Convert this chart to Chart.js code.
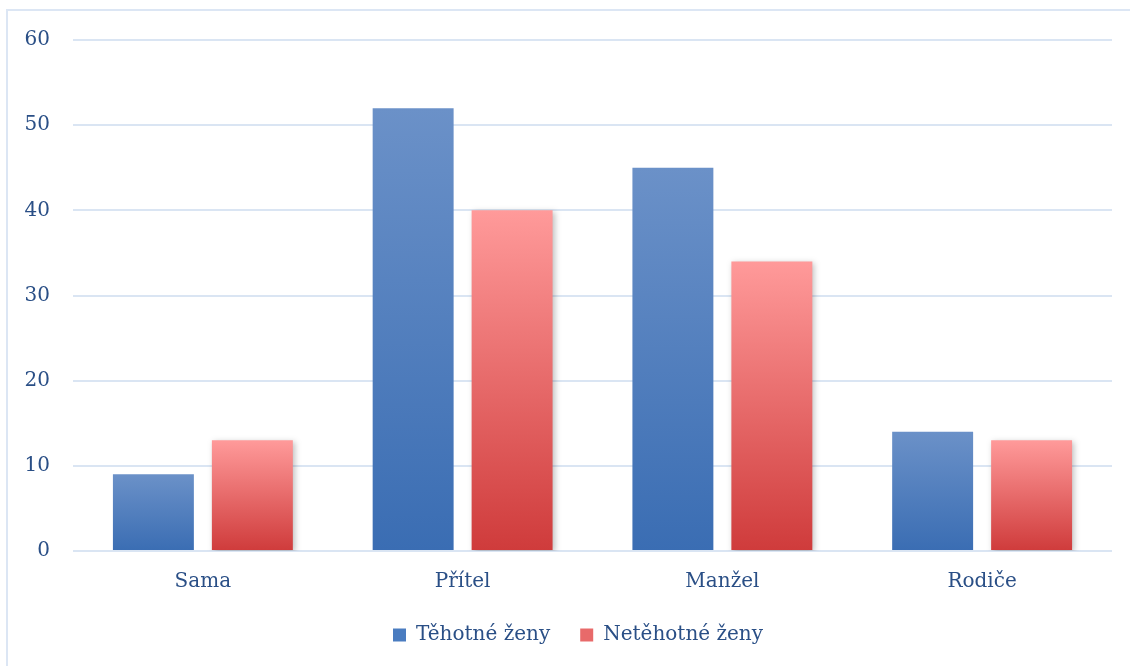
<!DOCTYPE html>
<html>
<head>
<meta charset="utf-8">
<script src="https://cdn.jsdelivr.net/npm/chart.js@4/dist/chart.umd.min.js"></script>
<style>
  html, body { margin: 0; padding: 0; background: #fff; overflow: hidden; }
  canvas { display: block; }
</style>
</head>
<body>
<canvas id="chart" width="1130" height="666"></canvas>
<script>
// categories and values
const categories = ["Sama", "Přítel", "Manžel", "Rodiče"];
const pregnant = [9, 52, 45, 14];
const notPregnant = [13, 40, 34, 13];
const yTicks = [0, 10, 20, 30, 40, 50, 60];

const textColor = "#2a4f86";
const gridColor = "#dae5f3";
const fontFamily = "DejaVu Serif";

// vertical gradient per bar, light on top, dark on bottom
function barGradient(top, bottom) {
    return (ctx) => {
        const chart = ctx.chart;
        const y = chart.scales && chart.scales.y;
        if (!chart.chartArea || !y || ctx.dataIndex === undefined) return bottom;
        const v = ctx.dataset.data[ctx.dataIndex];
        const yTop = y.getPixelForValue(v);
        const yBase = y.getPixelForValue(0);
        const g = chart.ctx.createLinearGradient(0, yTop, 0, yBase);
        g.addColorStop(0, top);
        g.addColorStop(1, bottom);
        return g;
    };
}

// soft shadow under the red bars
const shadowPlugin = {
    id: "barShadow",
    beforeDatasetDraw(chart, args) {
        const c = chart.ctx;
        c.save();
        if (args.index === 1) {
            c.shadowColor = "rgba(0,0,0,0.25)";
            c.shadowBlur = 6;
            c.shadowOffsetX = 2;
            c.shadowOffsetY = 2;
        }
    },
    afterDatasetDraw(chart) {
        chart.ctx.restore();
    }
};

// light frame on the left and top edge, legend nudged right
const framePlugin = {
    id: "frame",
    afterLayout(chart) {
        if (chart.legend) {
            chart.legend.left += 17;
            chart.legend.right += 17;
        }
    },
    beforeDraw(chart) {
        const c = chart.ctx;
        c.save();
        c.strokeStyle = "#dce6f4";
        c.lineWidth = 2;
        c.beginPath();
        c.moveTo(7, chart.height);
        c.lineTo(7, 10);
        c.lineTo(chart.width, 10);
        c.stroke();
        c.restore();
    }
};

const ctx = document.getElementById("chart").getContext("2d");
new Chart(ctx, {
    type: "bar",
    data: {
        labels: categories,
        datasets: [{
            label: "Těhotné ženy",
            data: pregnant,
            backgroundColor: barGradient("#6b91c8", "#3a6db3"),
            legendColor: "#4a7cc0"
        }, {
            label: "Netěhotné ženy",
            data: notPregnant,
            backgroundColor: barGradient("#ff9a9a", "#cf3b3b"),
            legendColor: "#e86a6a"
        }]
    },
    options: {
        responsive: false,
        animation: false,
        devicePixelRatio: 1,
        categoryPercentage: 0.762,
        barPercentage: 0.818,
        layout: { padding: { left: 10, right: 18, top: 40, bottom: 11 } },
        scales: {
            x: {
                afterFit(scale) { scale.height -= 18; },
                grid: { display: false, drawTicks: false },
                border: { display: false },
                ticks: { color: textColor, padding: 19, font: { family: fontFamily, size: 20 } }
            },
            y: {
                min: 0,
                max: 60,
                afterFit(scale) { scale.width = 63; },
                afterBuildTicks(scale) { scale.ticks = yTicks.map(v => ({ value: v })); },
                grid: { color: gridColor, lineWidth: 2, drawTicks: false },
                border: { display: false },
                ticks: { color: textColor, padding: 23, font: { family: fontFamily, size: 20 } }
            }
        },
        plugins: {
            tooltip: { enabled: false },
            legend: {
                position: "bottom",
                labels: {
                    color: textColor,
                    font: { family: fontFamily, size: 20 },
                    boxWidth: 13,
                    boxHeight: 13,
                    padding: 30,
                    generateLabels(chart) {
                        return chart.data.datasets.map((ds, i) => ({
                            text: ds.label,
                            fillStyle: ds.legendColor,
                            strokeStyle: ds.legendColor,
                            lineWidth: 0,
                            fontColor: textColor,
                            datasetIndex: i
                        }));
                    }
                }
            }
        }
    },
    plugins: [shadowPlugin, framePlugin]
});
</script>
</body>
</html>
